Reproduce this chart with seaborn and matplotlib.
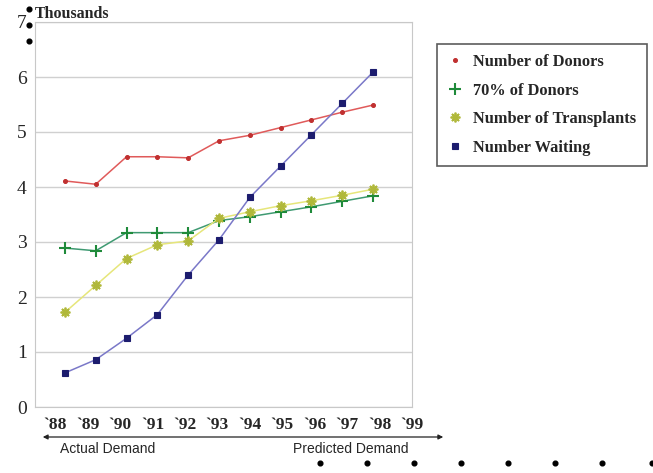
import numpy as np
import pandas as pd
import seaborn as sns
import matplotlib.pyplot as plt
from matplotlib.lines import Line2D
from matplotlib.patches import FancyArrowPatch

# Werte (in Tausend)
years = ["`88", "`89", "`90", "`91", "`92", "`93", "`94", "`95", "`96", "`97", "`98", "`99"]
donors = [4.11, 4.05, 4.55, 4.55, 4.53, 4.84, 4.94, 5.08, 5.22, 5.36, 5.49]
donors70 = [2.89, 2.84, 3.17, 3.17, 3.17, 3.39, 3.46, 3.55, 3.64, 3.74, 3.84]
transplants = [1.72, 2.21, 2.70, 2.95, 3.02, 3.43, 3.55, 3.66, 3.75, 3.85, 3.96]
waiting = [0.62, 0.86, 1.25, 1.68, 2.40, 3.04, 3.81, 4.38, 4.95, 5.52, 6.09]

series = {
    "Number of Donors": donors,
    "70% of Donors": donors70,
    "Number of Transplants": transplants,
    "Number Waiting": waiting,
}
styles = {
    "Number of Donors": dict(color="#e05a5a", marker="o", mfc="#c03030", mec="#c03030", ms=2.8),
    "70% of Donors": dict(color="#3f9a72", marker="+", mfc="#1f8a3a", mec="#1f8a3a", ms=9, mew=1.5),
    "Number of Transplants": dict(color="#e6e67a", marker=(8, 2, 0), mfc="#b0b83a", mec="#b0b83a", ms=7, mew=1.3),
    "Number Waiting": dict(color="#7a78c8", marker="s", mfc="#1c1c6e", mec="#1c1c6e", ms=4.6),
}

sns.set_style("white")
plt.rcParams['font.family'] = ['Liberation Serif', 'DejaVu Serif']

fig = plt.figure(figsize=(6.53, 4.73), dpi=100)
ax = fig.add_axes([35 / 653, 1 - 407 / 473, 377 / 653, 385 / 473])

for name, vals in series.items():
    st = styles[name]
    sns.lineplot(x=np.arange(len(vals)), y=vals, ax=ax, color=st["color"], lw=1.1,
                 marker=st["marker"], markersize=st["ms"], markerfacecolor=st["mfc"],
                 markeredgecolor=st["mec"], markeredgewidth=st.get("mew", 0.8))

ax.set_xlim(-0.97, 11.23)
ax.set_ylim(0, 7)
# Jahresbeschriftungen etwas weiter gespreizt als die Datenpunkte
ax.set_xticks(-0.32 + 1.053 * np.arange(len(years)))
ax.set_xticklabels(years, fontweight="bold", fontsize=12.5)
ax.set_yticks(range(8))
ax.set_yticklabels([str(i) for i in range(8)], fontsize=14)
ax.tick_params(axis="both", length=0)
ax.tick_params(axis="y", pad=6)
ax.tick_params(axis="x", pad=7)
ax.yaxis.grid(True, color="#d0d0d0", lw=1)
for sp in ax.spines.values():
    sp.set_color("#c8c8c8")

# Legende nur mit Markern
handles = []
for name in series:
    st = styles[name]
    handles.append(Line2D([], [], linestyle="none", marker=st["marker"], markersize=st["ms"],
                          markerfacecolor=st["mfc"], markeredgecolor=st["mec"],
                          markeredgewidth=st.get("mew", 0.8)))
leg = fig.legend(handles, list(series.keys()), loc="upper left",
                 bbox_to_anchor=(437 / 653, 1 - 44 / 473), borderaxespad=0,
                 frameon=True, fancybox=False,
                 prop=dict(weight="bold", size=11.8), handlelength=0.9, handletextpad=0.7,
                 labelspacing=0.76, borderpad=0.62)
leg.get_frame().set_edgecolor("#333333")
leg.get_frame().set_linewidth(1.2)

fig.text(35 / 653, 1 - 14 / 473, "Thousands", fontweight="bold", fontsize=11.5, va="center")

# Pfeil und Beschriftungen unten
fig.patches.append(FancyArrowPatch(
    (40 / 653, 1 - 437 / 473), (446 / 653, 1 - 437 / 473), transform=fig.transFigure,
    arrowstyle="<|-|>", mutation_scale=7, lw=0.9, color="#222222"))
fig.text(60 / 653, 1 - 449 / 473, "Actual Demand", family="Liberation Sans", fontsize=10, va="center")
fig.text(293 / 653, 1 - 449 / 473, "Predicted Demand", family="Liberation Sans", fontsize=10, va="center")

# Aufzählungspunkte als Marker
dot_x = [29, 29, 29, 320, 367, 414, 461, 508, 555, 602, 652]
dot_y = [9, 25, 41, 463, 463, 463, 463, 463, 463, 463, 463]
fig.add_artist(Line2D(np.array(dot_x) / 653, 1 - np.array(dot_y) / 473, linestyle="none",
                      marker="o", markersize=3.4, color="black", transform=fig.transFigure))

fig.savefig("out.png", dpi=100)
